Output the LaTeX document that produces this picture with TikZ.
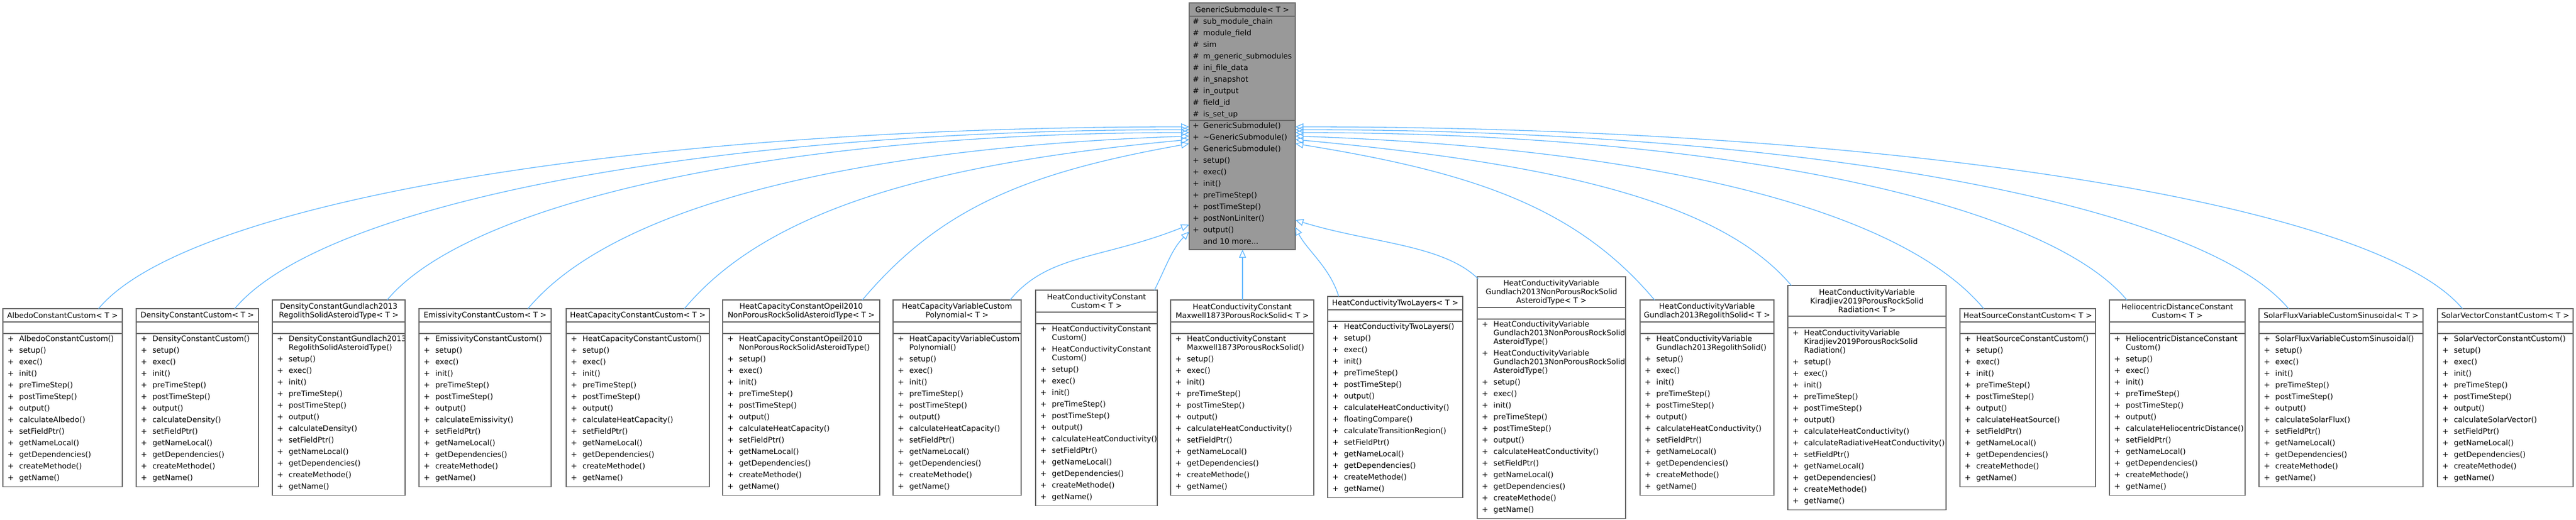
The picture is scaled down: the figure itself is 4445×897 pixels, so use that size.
\documentclass[tikz,border=0pt]{standalone}
\usepackage{fontspec}
\setmainfont{DejaVu Sans}
\usetikzlibrary{arrows.meta,calc,fit}
\definecolor{boxc}{HTML}{666666}
\definecolor{edgec}{HTML}{63B8FF}
\definecolor{parfill}{HTML}{999999}
\newcommand\pp[1]{\\[5pt] + & #1}
\newcommand\pc[1]{\\ & #1}
\newcommand\tailB{\pp{setFieldPtr()}\pp{getNameLocal()}\pp{getDependencies()}\pp{createMethode()}\pp{getName()}}
\newcommand\tailM{\pp{setup()}\pp{exec()}\pp{init()}\pp{preTimeStep()}\pp{postTimeStep()}\pp{output()}}
\newcommand\tailA[1]{\tailM\pp{#1}\tailB}
\newcommand\cls[7]{%
 \pgfmathsetmacro\clsTB{#4+8+15*#5}%
 \pgfmathsetmacro\clsST{\clsTB+20}%
 \pgfmathsetmacro\clsCX{(#2+#3)/2}%
 \pgfmathsetmacro\clsTY{(#4+\clsTB)/2}%
 \node[ttl] (#1-t) at (\clsCX,\clsTY) {#6};
 \node[mem,anchor=north west] (#1-m) at ({#2+8},\clsST) {\begin{tabular}{@{}p{20pt}@{}l@{}}#7\end{tabular}};
 \coordinate (#1-tl) at (#2,#4);
 \path let \p1=(#1-m.south) in coordinate (#1-br) at (#3pt,\y1-3pt);
 \node[boxs,fit=(#1-tl)(#1-br)] (#1) {};
 \draw[sep] (#2,\clsTB) -- (#3,\clsTB);
 \draw[sep] (#2,\clsST) -- (#3,\clsST);
}
\newcommand\edge[6]{\draw[inh] (#1) .. controls ([shift={(#3,#4)}]#1) and ([shift={(#5,#6)}]#2) .. (#2);}
\begin{document}
\begin{tikzpicture}[x=1pt,y=-1pt,
 every node/.style={font=\fontsize{13}{15}\selectfont},
 ttl/.style={align=center,inner sep=0pt},
 mem/.style={inner xsep=0pt,inner ysep=3pt},
 boxs/.style={draw=boxc,line width=1.5pt,inner sep=0pt},
 sep/.style={draw=boxc,line width=1.5pt},
 inh/.style={draw=edgec,line width=1.3pt,-{Triangle[open,length=14pt,width=12pt]}}]
\useasboundingbox (0,0) rectangle (4445,897);
% parent
\fill[parfill] (2052,5) rectangle (2235,431);
\node[boxs,fit={(2052,5)(2235,431)}] (gs) {};
\node[ttl] (gs-t) at (2143.5,16.5) {GenericSubmodule< T >};
\draw[sep] (2052,28) -- (2235,28);
\draw[sep] (2052,208) -- (2235,208);
\node[mem,anchor=north west] (gs-a) at (2058,28) {\begin{tabular}{@{}p{18pt}@{}l@{}}
\# & sub\_module\_chain\\[5pt] \# & module\_field\\[5pt] \# & sim\\[5pt] \# & m\_generic\_submodules\\[5pt]
\# & ini\_file\_data\\[5pt] \# & in\_snapshot\\[5pt] \# & in\_output\\[5pt] \# & field\_id\\[5pt] \# & is\_set\_up\end{tabular}};
\node[mem,anchor=north west] (gs-m) at (2058,208) {\begin{tabular}{@{}p{18pt}@{}l@{}}
+ & GenericSubmodule()\pp{\textasciitilde GenericSubmodule()}\pp{GenericSubmodule()}\pp{setup()}\pp{exec()}\pp{init()}\pp{preTimeStep()}\pp{postTimeStep()}\pp{postNonLinIter()}\pp{output()}\\[5pt] & and 10 more...\end{tabular}};
% children
\cls{c1}{5}{211}{533}{1}{AlbedoConstantCustom< T >}{+ & AlbedoConstantCustom()\tailA{calculateAlbedo()}}
\cls{c2}{235}{446}{533}{1}{DensityConstantCustom< T >}{+ & DensityConstantCustom()\tailA{calculateDensity()}}
\cls{c3}{470}{699}{518}{2}{DensityConstantGundlach2013\\RegolithSolidAsteroidType< T >}{+ & DensityConstantGundlach2013\pc{RegolithSolidAsteroidType()}\tailA{calculateDensity()}}
\cls{c4}{723}{951}{533}{1}{EmissivityConstantCustom< T >}{+ & EmissivityConstantCustom()\tailA{calculateEmissivity()}}
\cls{c5}{977}{1224}{533}{1}{HeatCapacityConstantCustom< T >}{+ & HeatCapacityConstantCustom()\tailA{calculateHeatCapacity()}}
\cls{c6}{1247}{1518}{518}{2}{HeatCapacityConstantOpeil2010\\NonPorousRockSolidAsteroidType< T >}{+ & HeatCapacityConstantOpeil2010\pc{NonPorousRockSolidAsteroidType()}\tailA{calculateHeatCapacity()}}
\cls{c7}{1541}{1762}{518}{2}{HeatCapacityVariableCustom\\Polynomial< T >}{+ & HeatCapacityVariableCustom\pc{Polynomial()}\tailA{calculateHeatCapacity()}}
\cls{c8}{1787}{1997}{501}{2}{HeatConductivityConstant\\Custom< T >}{+ & HeatConductivityConstant\pc{Custom()}\pp{HeatConductivityConstant}\pc{Custom()}\tailA{calculateHeatConductivity()}}
\cls{c9}{2020}{2267}{518}{2}{HeatConductivityConstant\\Maxwell1873PorousRockSolid< T >}{+ & HeatConductivityConstant\pc{Maxwell1873PorousRockSolid()}\tailA{calculateHeatConductivity()}}
\cls{c10}{2291}{2524}{512}{1}{HeatConductivityTwoLayers< T >}{+ & HeatConductivityTwoLayers()\tailM\pp{calculateHeatConductivity()}\pp{floatingCompare()}\pp{calculateTransitionRegion()}\tailB}
\cls{c11}{2549}{2805}{478}{3}{HeatConductivityVariable\\Gundlach2013NonPorousRockSolid\\AsteroidType< T >}{+ & HeatConductivityVariable\pc{Gundlach2013NonPorousRockSolid}\pc{AsteroidType()}\pp{HeatConductivityVariable}\pc{Gundlach2013NonPorousRockSolid}\pc{AsteroidType()}\tailA{calculateHeatConductivity()}}
\cls{c12}{2830}{3061}{518}{2}{HeatConductivityVariable\\Gundlach2013RegolithSolid< T >}{+ & HeatConductivityVariable\pc{Gundlach2013RegolithSolid()}\tailA{calculateHeatConductivity()}}
\cls{c13}{3085}{3358}{493}{3}{HeatConductivityVariable\\Kiradjiev2019PorousRockSolid\\Radiation< T >}{+ & HeatConductivityVariable\pc{Kiradjiev2019PorousRockSolid}\pc{Radiation()}\tailM\pp{calculateHeatConductivity()}\pp{calculateRadiativeHeatConductivity()}\tailB}
\cls{c14}{3382}{3616}{533}{1}{HeatSourceConstantCustom< T >}{+ & HeatSourceConstantCustom()\tailA{calculateHeatSource()}}
\cls{c15}{3640}{3874}{518}{2}{HeliocentricDistanceConstant\\Custom< T >}{+ & HeliocentricDistanceConstant\pc{Custom()}\tailA{calculateHeliocentricDistance()}}
\cls{c16}{3898}{4181}{533}{1}{SolarFluxVariableCustomSinusoidal< T >}{+ & SolarFluxVariableCustomSinusoidal()\tailA{calculateSolarFlux()}}
\cls{c17}{4206}{4440}{533}{1}{SolarVectorConstantCustom< T >}{+ & SolarVectorConstantCustom()\tailA{calculateSolarVector()}}
% attachment points
\coordinate (a1) at (170,533); \coordinate (a2) at (405,533); \coordinate (a3) at (668,518);
\coordinate (a4) at (911,533); \coordinate (a5) at (1181,533); \coordinate (a6) at (1488,518);
\coordinate (a7) at (1743,518); \coordinate (a8) at (1992,501); \coordinate (a9) at (2144,518);
\coordinate (a10) at (2310,512); \coordinate (a11) at (2551,482); \coordinate (a12) at (2855,518);
\coordinate (a13) at (3091,493); \coordinate (a14) at (3423,533); \coordinate (a15) at (3670,518);
\coordinate (a16) at (3949,533); \coordinate (a17) at (4249,533);
\coordinate (p1) at (2052,219); \coordinate (p2) at (2052,224); \coordinate (p3) at (2052,229);
\coordinate (p4) at (2052,235); \coordinate (p5) at (2052,241); \coordinate (p6) at (2052,248);
\coordinate (p7) at (2052,388); \coordinate (p8) at (2052,400); \coordinate (p9) at (2144,431);
\coordinate (p10) at (2235,392); \coordinate (p11) at (2235,380);
\coordinate (p12) at (2235,248); \coordinate (p13) at (2235,241); \coordinate (p14) at (2235,235);
\coordinate (p15) at (2235,229); \coordinate (p16) at (2235,224); \coordinate (p17) at (2235,219);
\edge{a1}{p1}{157}{-188}{-940}{0}
\edge{a2}{p2}{155}{-185}{-820}{0}
\edge{a3}{p3}{145}{-173}{-690}{0}
\edge{a4}{p4}{150}{-180}{-570}{20}
\edge{a5}{p5}{146}{-175}{-430}{40}
\edge{a6}{p6}{135}{-160}{-280}{50}
\edge{a7}{p7}{65}{-80}{-150}{60}
\edge{a8}{p8}{20}{-40}{-30}{30}
\draw[inh] (a9) -- (p9);
\edge{a10}{p10}{-15}{-50}{20}{40}
\edge{a11}{p11}{-60}{-60}{130}{40}
\edge{a12}{p12}{-135}{-160}{310}{50}
\edge{a13}{p13}{-126}{-150}{430}{40}
\edge{a14}{p14}{-150}{-180}{590}{20}
\edge{a15}{p15}{-145}{-173}{720}{0}
\edge{a16}{p16}{-155}{-185}{860}{0}
\edge{a17}{p17}{-157}{-188}{1000}{0}
\end{tikzpicture}
\end{document}
